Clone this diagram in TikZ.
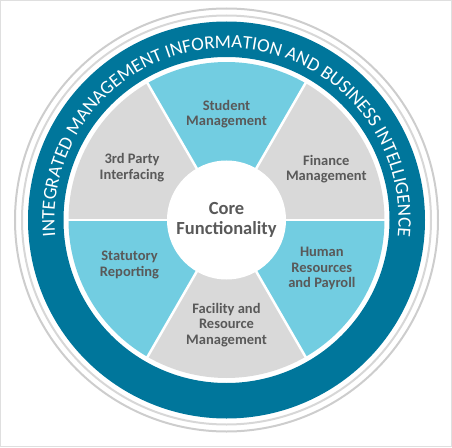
\documentclass[tikz,border=0pt]{standalone}
\usepackage{fontspec}
\setmainfont{Carlito}
\usepackage{tikz}
\usetikzlibrary{decorations.text}

\definecolor{ringteal}{HTML}{00769B}
\definecolor{segcyan}{HTML}{72CDE1}
\definecolor{seggray}{HTML}{D9D9D9}
\definecolor{labelgray}{HTML}{595959}
\definecolor{rimgray}{HTML}{CDCDCD}
\newcommand{\segfont}{\fontsize{14.5}{15.5}\selectfont\bfseries}
\newcommand{\corefont}{\fontsize{18.5}{20}\selectfont\bfseries}
\newcommand{\ringfont}{\fontsize{19}{22}\selectfont}

\begin{document}
\begin{tikzpicture}[x=1pt,y=1pt,
  seglabel/.style={align=center,text=labelgray,font=\segfont},
  rim/.style={draw=rimgray,line width=2pt}]
  \useasboundingbox (-226.5,-227) rectangle (225.5,220);
  \draw[gray!25,line width=1pt] (-226,-226.5) rectangle (225,219.5);

  % outer rims and band
  \draw[rim] (0,0) circle[radius=211.5];
  \draw[rim,draw=rimgray!80] (0,0) circle[radius=204.5];
  \fill[ringteal,even odd rule] (0,0) circle[radius=198.5] (0,0) circle[radius=163];

  % six segments
  \foreach \a/\c in {0/seggray,60/segcyan,120/seggray,180/segcyan,240/seggray,300/segcyan}
    \fill[\c] (0,0) -- (\a:158) arc[start angle=\a,delta angle=60,radius=158] -- cycle;
  \foreach \a in {0,60,...,300}
    \draw[white,line width=2.5pt] (0,0) -- (\a:159);

  \node at (0,0) [circle,fill=white,minimum size=119pt,inner sep=0pt,align=center,
    text=labelgray,font=\corefont] (core) {
    Core\\Functionality
  };

  \node at (90:106) [seglabel] (student) {
    Student\\Management
  };

  \node at (151:108) [seglabel] (thirdparty) {
    3rd Party\\Interfacing
  };

  \node at (27:112) [seglabel] (finance) {
    Finance\\Management
  };

  \node at (205:107) [seglabel] (statutory) {
    Statutory\\Reporting
  };

  \node at (333:107) [seglabel] (human) {
    Human\\Resources\\and Payroll
  };

  \node at (270:105) [seglabel] (facility) {
    Facility and\\Resource\\Management
  };

  % band title
  \path[decorate,decoration={text along path,text align=center,
    text={|\color{white}\ringfont|INTEGRATED MANAGEMENT INFORMATION AND BUSINESS INTELLIGENCE}}]
    (184:172) arc[start angle=184,end angle=-4,radius=172];
\end{tikzpicture}
\end{document}
